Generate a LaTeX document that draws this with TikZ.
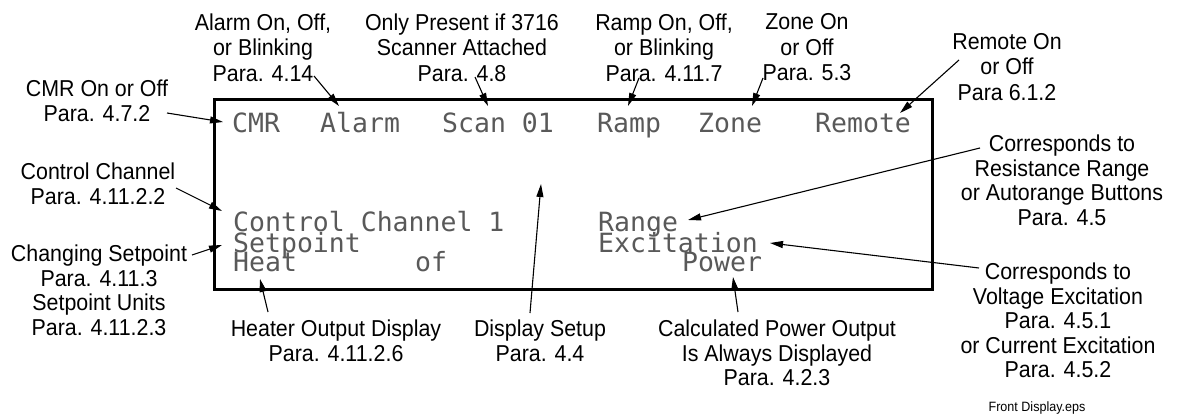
\documentclass[tikz,border=0pt]{standalone}
\usepackage{fontspec}
\newfontfamily\labfont{Liberation Sans}[FakeStretch=0.93]
\newfontfamily\lcdfont{DejaVu Sans Mono}
\usetikzlibrary{arrows.meta}
\begin{document}
\begin{tikzpicture}[x=1pt,y=-1pt,
  lab/.style={font=\labfont\fontsize{23}{24.5}\selectfont, align=center, inner sep=0pt, anchor=north},
  labtop/.style={lab, font=\labfont\fontsize{23}{25.5}\selectfont},
  lcd/.style={font=\lcdfont\fontsize{26.5}{26.5}\selectfont, text=black!65, inner sep=0pt, anchor=base west, text height=18pt, text depth=0pt},
  ptr/.style={line width=1.1pt, -{Triangle[length=13pt,width=7pt]}},
  frame/.style={line width=3pt}]
\useasboundingbox (0,0) rectangle (1178,414);

% display frame
\node[frame, draw, minimum width=718pt, minimum height=190pt, inner sep=0pt, anchor=north west] (disp) at (213,98) {};

% display text
\node[lcd] (tCMR) at (232,133) {CMR};
\node[lcd] (tAlarm) at (320,133) {Alarm};
\node[lcd] (tScan) at (442,133) {Scan 01};
\node[lcd] (tRamp) at (597,133) {Ramp};
\node[lcd] (tZone) at (698,133) {Zone};
\node[lcd] (tRemote) at (815,133) {Remote};
\node[lcd] (tCtrl) at (233,232) {Control Channel 1};
\node[lcd] (tSet) at (233,252) {Setpoint};
\node[lcd] (tHeat) at (233,272) {Heat};
\node[lcd] (tOf) at (415,272) {of};
\node[lcd] (tRange) at (598,232) {Range};
\node[lcd] (tExc) at (598,252) {Excitation};
\node[lcd] (tPower) at (682,272) {Power};

% labels
\node[labtop] (lAlarm) at (263,13.5) {Alarm On, Off,\\or Blinking\\Para. 4.14};
\node[labtop] (lScan) at (462,13.5) {Only Present if 3716\\Scanner Attached\\Para. 4.8};
\node[labtop] (lRamp) at (664,13.5) {Ramp On, Off,\\or Blinking\\Para. 4.11.7};
\node[labtop] (lZone) at (807,13.5) {Zone On\\or Off\\Para. 5.3};
\node[labtop] (lRemote) at (1007,33) {Remote On\\or Off\\Para 6.1.2};
\node[lab] (lCMR) at (97,80) {CMR On or Off\\Para. 4.7.2};
\node[lab] (lCtrl) at (98,163) {Control Channel\\Para. 4.11.2.2};
\node[lab] (lSet) at (99,245) {Changing Setpoint\\Para. 4.11.3\\Setpoint Units\\Para. 4.11.2.3};
\node[lab] (lHeat) at (336,320) {Heater Output Display\\Para. 4.11.2.6};
\node[lab] (lDisp) at (540,320) {Display Setup\\Para. 4.4};
\node[lab] (lPow) at (777,320) {Calculated Power Output\\Is Always Displayed\\Para. 4.2.3};
\node[lab] (lRange) at (1062,135) {Corresponds to\\Resistance Range\\or Autorange Buttons\\Para. 4.5};
\node[lab] (lExc) at (1058,263) {Corresponds to\\Voltage Excitation\\Para. 4.5.1\\or Current Excitation\\Para. 4.5.2};
\node[font=\labfont\fontsize{13.5}{14}\selectfont, inner sep=0pt, anchor=base] (fname) at (1037,411) {Front Display.eps};

% connector ends
\coordinate (aCMR) at (167,113);   \coordinate (bCMR) at (223,122);
\coordinate (aAlarm) at (314,76);  \coordinate (bAlarm) at (339,106);
\coordinate (aScan) at (475,77);   \coordinate (bScan) at (488,106);
\coordinate (aRamp) at (639,78);   \coordinate (bRamp) at (628,106);
\coordinate (aZone) at (763,78);   \coordinate (bZone) at (752,106);
\coordinate (aRemote) at (959,60); \coordinate (bRemote) at (900,113);
\coordinate (aCtrl) at (176,188);  \coordinate (bCtrl) at (222,211);
\coordinate (aSet) at (192,255);   \coordinate (bSet) at (222,245);
\coordinate (aHeat) at (268,312);  \coordinate (bHeat) at (260,279);
\coordinate (aDisp) at (530,313);  \coordinate (bDisp) at (541,184);
\coordinate (aPow) at (738,312);   \coordinate (bPow) at (733,277);
\coordinate (aRange) at (980,148); \coordinate (bRange) at (688,220);
\coordinate (aExc) at (979,268);   \coordinate (bExc) at (770,243);

\foreach \n in {CMR,Alarm,Scan,Ramp,Zone,Remote,Ctrl,Set,Heat,Disp,Pow,Range,Exc}
  \draw[ptr] (a\n) -- (b\n);
\end{tikzpicture}
\end{document}
